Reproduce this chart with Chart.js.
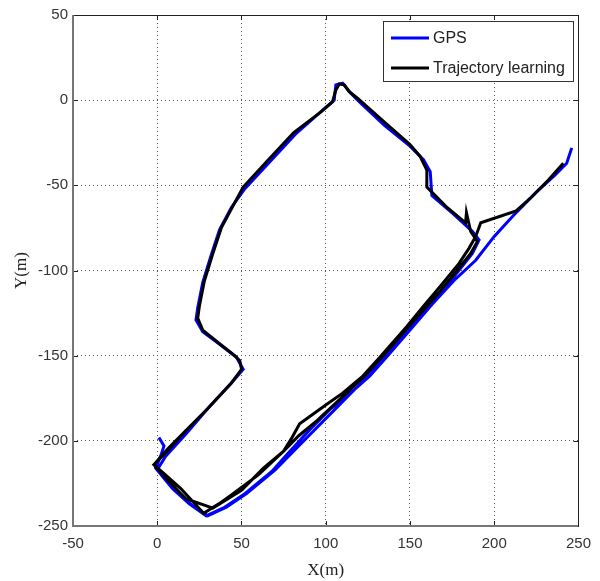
<!DOCTYPE html>
<html>
<head>
<meta charset="utf-8">
<script src="https://cdn.jsdelivr.net/npm/chart.js@4.4.0/dist/chart.umd.min.js"></script>
<style>
  html, body { margin: 0; padding: 0; background: #fff; }
</style>
</head>
<body>
<canvas id="pathChart" width="600" height="581"></canvas>
<script>
// Tick values and series names
const xTicks = [-50, 0, 50, 100, 150, 200, 250];
const yTicks = [-250, -200, -150, -100, -50, 0, 50];
const seriesNames = ['GPS', 'Trajectory learning'];

// GPS track
const gpsX = [1, 4, 2, -1, 9, 19, 29, 40, 52, 68, 77, 90, 103, 117, 124, 136, 150, 161, 170, 179, 187, 191,
  187, 176, 163, 162, 158, 150, 135, 120, 114, 110, 106, 105, 98, 82, 67, 52, 44, 37, 32, 27, 24, 23,
  27, 38, 47, 51, 44, 30, 17, 5, 0, 10, 21, 30, 41, 53, 70, 80, 92, 105, 118, 126, 136, 150, 163, 176,
  189, 200, 213, 225, 236, 243, 246];
const gpsY = [-198, -203, -209, -216, -228, -237, -244, -239, -231, -218, -208, -194, -181, -170, -163, -150,
  -134, -121, -111, -100, -90, -82, -77, -67, -56, -42, -35, -27, -15, -1, 5, 10, 9, 0, -6, -20, -36, -52,
  -63, -76, -91, -107, -122, -129, -136, -144, -151, -158, -166, -181, -196, -209, -217, -229, -238, -244,
  -239, -231, -217, -207, -195, -182, -169, -162, -151, -135, -120, -106, -94, -80, -66, -54, -44, -37, -28];

// Trajectory learning output
const trajX = [241, 232, 222, 213, 192, 189, 185, 179, 169, 158, 148, 132, 122, 110, 100, 84.5, 80, 75, 63,
  50, 33, 17, 8, -2, 6, 17, 30, 44, 50, 49, 46, 37, 27, 24, 25, 28, 33, 38, 45, 51, 65, 81, 97, 104, 106,
  108, 111, 114, 119, 135, 150, 156, 160, 160, 172, 183, 183.5, 186, 190, 186, 178, 168, 160, 150, 135,
  122, 108, 95, 84, 75, 60, 45, 38, 27.5, 14, -2, 5, 17];
const trajY = [-37, -47, -57, -65, -72, -80, -87, -96, -108, -121, -133, -151, -162, -172, -179, -190, -198,
  -206, -216, -229, -239.5, -234, -225, -214, -205, -194, -181, -166, -158, -153, -150, -143, -135, -128,
  -121, -106, -90, -75, -62, -51, -36, -19, -7, -1, 6, 9.5, 9, 5, 1, -13, -26, -33, -41, -51, -63, -72, -66,
  -77, -83, -90, -100, -112, -121, -132, -149, -163, -176, -188, -197, -206, -220, -231, -236, -242.5, -228,
  -214, -207, -194];

const toPoints = (xs, ys) => xs.map((x, i) => ({ x: x, y: ys[i] }));

const tickFont = { family: "'Liberation Sans', Arial, sans-serif", size: 15 };
const titleFont = { family: "'Liberation Serif', 'Times New Roman', serif", size: 17 };

const gridColor = ctx => {
  const v = ctx.tick && ctx.tick.value;
  const s = ctx.scale;
  return (v === s.min || v === s.max) ? 'rgba(0,0,0,0)' : '#555';
};

// axes box with inward ticks on all four sides
const frame = {
  id: 'frame',
  afterDatasetsDraw(chart) {
    const { ctx, chartArea: a, scales: { x, y } } = chart;
    ctx.save();
    ctx.strokeStyle = '#222';
    ctx.lineWidth = 1;
    ctx.beginPath();
    xTicks.forEach(v => {
      const px = Math.round(x.getPixelForValue(v)) + 0.5;
      ctx.moveTo(px, a.bottom); ctx.lineTo(px, a.bottom - 5);
      ctx.moveTo(px, a.top); ctx.lineTo(px, a.top + 5);
    });
    yTicks.forEach(v => {
      const py = Math.round(y.getPixelForValue(v)) + 0.5;
      ctx.moveTo(a.left, py); ctx.lineTo(a.left + 5, py);
      ctx.moveTo(a.right, py); ctx.lineTo(a.right - 5, py);
    });
    ctx.stroke();
    ctx.strokeStyle = '#222';
    ctx.strokeRect(Math.round(a.left) + 0.5, Math.round(a.top) + 0.5,
      Math.round(a.right - a.left), Math.round(a.bottom - a.top));
    ctx.strokeStyle = '#777';
    ctx.lineWidth = 2;
    ctx.beginPath();
    ctx.moveTo(Math.round(a.left), Math.round(a.top));
    ctx.lineTo(Math.round(a.left), Math.round(a.bottom));
    ctx.lineTo(Math.round(a.right), Math.round(a.bottom));
    ctx.stroke();
    ctx.restore();
  }
};

// boxed legend in the top right corner of the plot
const boxLegend = {
  id: 'boxLegend',
  afterDraw(chart) {
    const { ctx, chartArea: a } = chart;
    const bx = Math.round(a.right) - 195, by = Math.round(a.top) + 6, bw = 190, bh = 60;
    ctx.save();
    ctx.fillStyle = '#fff';
    ctx.fillRect(bx, by, bw, bh);
    ctx.strokeStyle = '#333';
    ctx.lineWidth = 1;
    ctx.strokeRect(bx + 0.5, by + 0.5, bw, bh);
    ctx.font = "16px 'Liberation Sans', Arial, sans-serif";
    ctx.textBaseline = 'middle';
    chart.data.datasets.forEach((ds, i) => {
      const cy = by + 17 + i * 30;
      ctx.strokeStyle = ds.borderColor;
      ctx.lineWidth = 3;
      ctx.beginPath();
      ctx.moveTo(bx + 8, cy);
      ctx.lineTo(bx + 46, cy);
      ctx.stroke();
      ctx.fillStyle = '#222';
      ctx.fillText(ds.label, bx + 50, cy + 1);
    });
    ctx.restore();
  }
};

const ctx = document.getElementById('pathChart').getContext('2d');
const pathChart = new Chart(ctx, {
  type: 'scatter',
  data: {
    datasets: [{
      label: seriesNames[0],
      data: toPoints(gpsX, gpsY),
      borderColor: '#0000ff',
      backgroundColor: '#0000ff',
      borderWidth: 3,
      showLine: true,
      pointRadius: 0,
      order: 1
    }, {
      label: seriesNames[1],
      data: toPoints(trajX, trajY),
      borderColor: '#000000',
      backgroundColor: '#000000',
      borderWidth: 3,
      showLine: true,
      pointRadius: 0,
      order: 0
    }]
  },
  options: {
    responsive: false,
    animation: false,
    layout: { padding: { top: 15, right: 16, left: 0, bottom: 0 } },
    plugins: {
      legend: { display: false },
      tooltip: { enabled: false }
    },
    scales: {
      x: {
        type: 'linear',
        min: -50,
        max: 250,
        afterBuildTicks: s => { s.ticks = xTicks.map(v => ({ value: v })); },
        afterFit: s => { s.height = 55; },
        ticks: { font: tickFont, color: '#333', padding: 9, maxRotation: 0 },
        grid: { color: gridColor, drawTicks: false, lineWidth: 1 },
        border: { display: false, dash: [1, 3] },
        title: { display: true, text: 'X(m)', font: titleFont, color: '#222', padding: { top: 0, bottom: 0 } }
      },
      y: {
        type: 'linear',
        min: -250,
        max: 50,
        afterBuildTicks: s => { s.ticks = yTicks.map(v => ({ value: v })); },
        afterFit: s => { s.width = 73; },
        ticks: { font: tickFont, color: '#333', padding: 5 },
        grid: { color: gridColor, drawTicks: false, lineWidth: 1 },
        border: { display: false, dash: [1, 3] },
        title: { display: true, text: 'Y(m)', font: titleFont, color: '#222', padding: { top: 11, bottom: 0 } }
      }
    }
  },
  plugins: [frame, boxLegend]
});
</script>
</body>
</html>
